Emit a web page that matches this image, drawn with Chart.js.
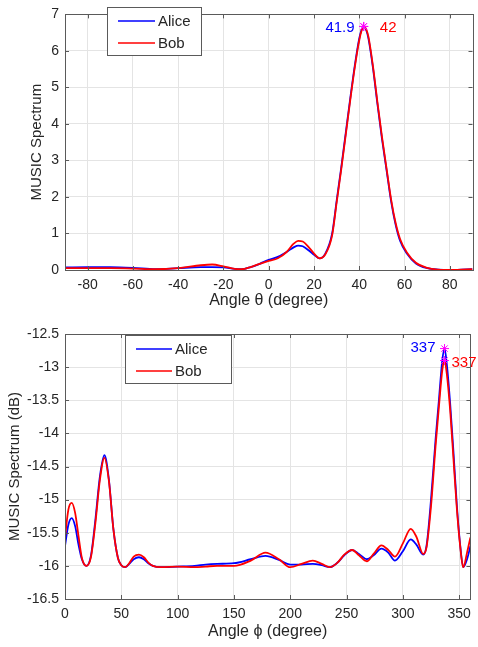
<!DOCTYPE html>
<html>
<head>
<meta charset="utf-8">
<script src="https://cdn.jsdelivr.net/npm/chart.js@4.4.1/dist/chart.umd.min.js"></script>
<style>
  html, body { margin: 0; padding: 0; background: #fff; }
  .wrap { position: absolute; left: 0; width: 478px; }
  canvas { display: block; }
</style>
</head>
<body>
<div class="wrap" style="top:0"><canvas id="theta-chart" width="478" height="310"></canvas></div>
<div class="wrap" style="top:310px"><canvas id="phi-chart" width="478" height="337"></canvas></div>
<script>
// ---- top panel: elevation angle theta ----
const thetaAngles = [-90, -80, -70, -60, -50, -40, -30, -25, -20, -15, -12, -8, -4, 0, 4, 8, 11, 13, 15, 18, 20, 22.5, 25, 28, 30, 32, 34, 36, 38, 40, 41, 42, 43, 44, 46, 48, 50, 52, 54, 56, 58, 61, 65, 70, 75, 80, 85, 90];
const thetaAlice = [0.07, 0.08, 0.08, 0.06, 0.02, 0.05, 0.08, 0.08, 0.07, 0.03, 0.02, 0.08, 0.17, 0.28, 0.36, 0.5, 0.62, 0.67, 0.65, 0.52, 0.42, 0.32, 0.45, 1.0, 1.9, 2.8, 3.75, 4.7, 5.6, 6.35, 6.58, 6.67, 6.58, 6.35, 5.55, 4.55, 3.6, 2.75, 1.9, 1.25, 0.8, 0.45, 0.18, 0.05, 0.01, 0.0, 0.01, 0.02];
const thetaBob = [0.05, 0.05, 0.05, 0.04, 0.02, 0.05, 0.13, 0.15, 0.1, 0.03, 0.02, 0.08, 0.17, 0.25, 0.32, 0.5, 0.72, 0.8, 0.78, 0.6, 0.45, 0.32, 0.43, 0.95, 1.85, 2.75, 3.7, 4.65, 5.55, 6.3, 6.55, 6.67, 6.6, 6.4, 5.6, 4.6, 3.65, 2.8, 1.95, 1.3, 0.85, 0.48, 0.2, 0.06, 0.01, 0.0, 0.01, 0.02];
const thetaTicks = [-80, -60, -40, -20, 0, 20, 40, 60, 80];
const thetaYTicks = [0, 1, 2, 3, 4, 5, 6, 7];
const thetaPeakAngles = [41.9, 42];
const thetaPeakValues = [6.67, 6.67];
const thetaPeakLabels = ['41.9', '42'];

// ---- bottom panel: azimuth angle phi ----
const phiAngles = [0, 3, 6, 9, 12, 15, 19, 23, 27, 31, 35, 39, 43, 47, 50, 53.5, 57, 61, 65.7, 70, 74, 78, 85, 100, 115, 125, 135, 150, 165, 178, 190, 200, 210, 220, 228, 235, 242, 248, 255, 261, 268, 274, 281, 287, 293, 300, 307, 312, 318, 321, 325, 329, 332, 335, 337, 339, 342, 345, 348, 351, 353.6, 357, 360];
const phiAlice = [-15.7, -15.38, -15.28, -15.4, -15.68, -15.9, -16.0, -15.85, -15.3, -14.65, -14.33, -14.7, -15.45, -15.88, -15.99, -16.02, -15.97, -15.9, -15.87, -15.9, -15.96, -16.0, -16.02, -16.01, -16.0, -15.98, -15.97, -15.96, -15.9, -15.85, -15.91, -15.98, -15.98, -15.97, -15.99, -16.02, -15.95, -15.84, -15.76, -15.82, -15.9, -15.84, -15.74, -15.8, -15.92, -15.78, -15.6, -15.68, -15.83, -15.7, -15.0, -14.1, -13.5, -12.9, -12.72, -12.95, -13.55, -14.3, -15.1, -15.7, -16.02, -15.9, -15.7];
const phiBob = [-15.57, -15.15, -15.05, -15.2, -15.55, -15.88, -16.0, -15.87, -15.35, -14.7, -14.37, -14.72, -15.45, -15.88, -15.99, -16.02, -15.96, -15.86, -15.83, -15.87, -15.95, -16.0, -16.02, -16.01, -16.02, -16.01, -16.0, -16.0, -15.92, -15.8, -15.9, -16.02, -15.97, -15.92, -15.97, -16.02, -15.95, -15.83, -15.76, -15.84, -15.93, -15.82, -15.69, -15.76, -15.86, -15.66, -15.44, -15.56, -15.82, -15.72, -15.1, -14.2, -13.6, -13.05, -12.9, -13.1, -13.65, -14.4, -15.15, -15.72, -16.02, -15.8, -15.57];
const phiTicks = [0, 50, 100, 150, 200, 250, 300, 350];
const phiYTicks = [-16.5, -16, -15.5, -15, -14.5, -14, -13.5, -13, -12.5];
const phiPeakAngles = [337, 337];
const phiPeakValues = [-12.72, -12.9];
const phiPeakLabels = ['337', '337'];

const seriesNames = ['Alice', 'Bob'];
const seriesColors = ['#0000ff', '#ff0000'];

const FONT = '"Liberation Sans", Arial, sans-serif';
const TEXT = '#262626';
const AXIS = '#5a5a5a';

function points(xs, ys) {
  return xs.map((x, i) => ({ x: x, y: ys[i] }));
}

// MATLAB style box with inward ticks, legend box and peak labels
const matlabFrame = {
  id: 'matlabFrame',
  afterDraw(chart, args, opts) {
    const ctx = chart.ctx;
    const a = chart.chartArea;
    const xs = chart.scales.x;
    const ys = chart.scales.y;
    ctx.save();
    ctx.strokeStyle = AXIS;
    ctx.lineWidth = 1;
    ctx.beginPath();
    xs.ticks.forEach(t => {
      const px = Math.round(xs.getPixelForValue(t.value)) + 0.5;
      ctx.moveTo(px, a.bottom); ctx.lineTo(px, a.bottom - 4);
      ctx.moveTo(px, a.top); ctx.lineTo(px, a.top + 4);
    });
    ys.ticks.forEach(t => {
      const py = Math.round(ys.getPixelForValue(t.value)) + 0.5;
      ctx.moveTo(a.left, py); ctx.lineTo(a.left + 4, py);
      ctx.moveTo(a.right, py); ctx.lineTo(a.right - 4, py);
    });
    ctx.stroke();
    ctx.strokeRect(Math.round(a.left) + 0.5, Math.round(a.top) + 0.5, Math.round(a.right - a.left), Math.round(a.bottom - a.top));

    // peak labels
    ctx.font = '15px ' + FONT;
    ctx.textBaseline = 'middle';
    opts.peaks.forEach((p, i) => {
      const px = xs.getPixelForValue(p.x);
      const py = ys.getPixelForValue(p.y);
      ctx.fillStyle = seriesColors[i];
      ctx.textAlign = p.side === 'left' ? 'right' : 'left';
      ctx.fillText(p.label, px + p.dx, py + p.dy);
    });

    // legend
    const L = opts.legend;
    ctx.fillStyle = '#fff';
    ctx.fillRect(L.x, L.y, L.w, L.h);
    ctx.strokeStyle = AXIS;
    ctx.strokeRect(L.x + 0.5, L.y + 0.5, L.w, L.h);
    seriesNames.forEach((name, i) => {
      const y = L.y + 14 + i * 22;
      ctx.strokeStyle = seriesColors[i];
      ctx.lineWidth = 1.6;
      ctx.beginPath();
      ctx.moveTo(L.x + 11, y); ctx.lineTo(L.x + L.lineW + 11, y);
      ctx.stroke();
      ctx.fillStyle = TEXT;
      ctx.textAlign = 'left';
      ctx.fillText(name, L.x + L.lineW + 14, y + 1);
    });
    ctx.restore();
  }
};

function makeChart(id, cfg) {
  const ctx = document.getElementById(id).getContext('2d');
  return new Chart(ctx, {
    type: 'line',
    data: {
      datasets: [
        {
          label: 'peaks',
          data: points(cfg.peakX, cfg.peakY),
          showLine: false,
          pointStyle: 'star',
          pointRadius: 4.5,
          borderColor: '#ff00ff',
          borderWidth: 1,
          order: 0,
          clip: false
        },
        {
          label: seriesNames[1],
          data: points(cfg.angles, cfg.bob),
          borderColor: seriesColors[1],
          borderWidth: 1.8,
          pointRadius: 0,
          cubicInterpolationMode: 'monotone',
          order: 1
        },
        {
          label: seriesNames[0],
          data: points(cfg.angles, cfg.alice),
          borderColor: seriesColors[0],
          borderWidth: 1.8,
          pointRadius: 0,
          cubicInterpolationMode: 'monotone',
          order: 2
        }
      ]
    },
    options: {
      responsive: false,
      animation: false,
      layout: { padding: cfg.padding },
      plugins: {
        legend: { display: false },
        tooltip: { enabled: false },
        matlabFrame: { peaks: cfg.peaks, legend: cfg.legend }
      },
      scales: {
        x: {
          type: 'linear',
          min: cfg.xMin,
          max: cfg.xMax,
          afterBuildTicks: (s) => { s.ticks = cfg.xTicks.map(v => ({ value: v })); },
          afterFit: (s) => { s.height = cfg.xAxisHeight; },
          grid: { color: '#e4e4e4', drawTicks: false },
          border: { display: false },
          ticks: { color: TEXT, font: { family: FONT, size: 14 }, padding: 7, maxRotation: 0, callback: (v) => String(v) },
          title: { display: true, text: cfg.xTitle, color: TEXT, font: { family: FONT, size: 16 }, padding: { top: 0, bottom: cfg.xTitlePad } }
        },
        y: {
          min: cfg.yMin,
          max: cfg.yMax,
          afterBuildTicks: (s) => { s.ticks = cfg.yTicks.map(v => ({ value: v })); },
          afterFit: (s) => { s.width = 65; },
          grid: { color: '#e4e4e4', drawTicks: false },
          border: { display: false },
          ticks: { color: TEXT, font: { family: FONT, size: 14 }, padding: 6, callback: (v) => String(v) },
          title: { display: true, text: cfg.yTitle, color: TEXT, font: { family: FONT, size: 15 }, padding: { top: cfg.yTitlePad, bottom: 0 } }
        }
      }
    },
    plugins: [matlabFrame]
  });
}

makeChart('theta-chart', {
  angles: thetaAngles, alice: thetaAlice, bob: thetaBob,
  peakX: thetaPeakAngles, peakY: thetaPeakValues,
  peaks: [
    { x: thetaPeakAngles[0], y: thetaPeakValues[0], label: thetaPeakLabels[0], side: 'left', dx: -9, dy: 1 },
    { x: thetaPeakAngles[1], y: thetaPeakValues[1], label: thetaPeakLabels[1], side: 'right', dx: 16, dy: 1 }
  ],
  legend: { x: 107, y: 7, w: 94, h: 48, lineW: 37 },
  padding: { left: 0, right: 2, top: 5, bottom: 0 },
  xMin: -90, xMax: 90, xTicks: thetaTicks,
  yMin: 0, yMax: 7, yTicks: thetaYTicks,
  xAxisHeight: 40, xTitlePad: 0, yTitlePad: 28,
  xTitle: 'Angle θ (degree)', yTitle: 'MUSIC Spectrum'
});

makeChart('phi-chart', {
  angles: phiAngles, alice: phiAlice, bob: phiBob,
  peakX: phiPeakAngles, peakY: phiPeakValues,
  peaks: [
    { x: phiPeakAngles[0], y: phiPeakValues[0], label: phiPeakLabels[0], side: 'left', dx: -9, dy: -1 },
    { x: phiPeakAngles[1], y: phiPeakValues[1], label: phiPeakLabels[1], side: 'right', dx: 7, dy: 2 }
  ],
  legend: { x: 125, y: 25, w: 106, h: 48, lineW: 36 },
  padding: { left: 0, right: 2, top: 24, bottom: 0 },
  xMin: 0, xMax: 360, xTicks: phiTicks,
  yMin: -16.5, yMax: -12.5, yTicks: phiYTicks,
  xAxisHeight: 48, xTitlePad: 6, yTitlePad: 6,
  xTitle: 'Angle ϕ (degree)', yTitle: 'MUSIC Spectrum (dB)'
});
</script>
</body>
</html>
